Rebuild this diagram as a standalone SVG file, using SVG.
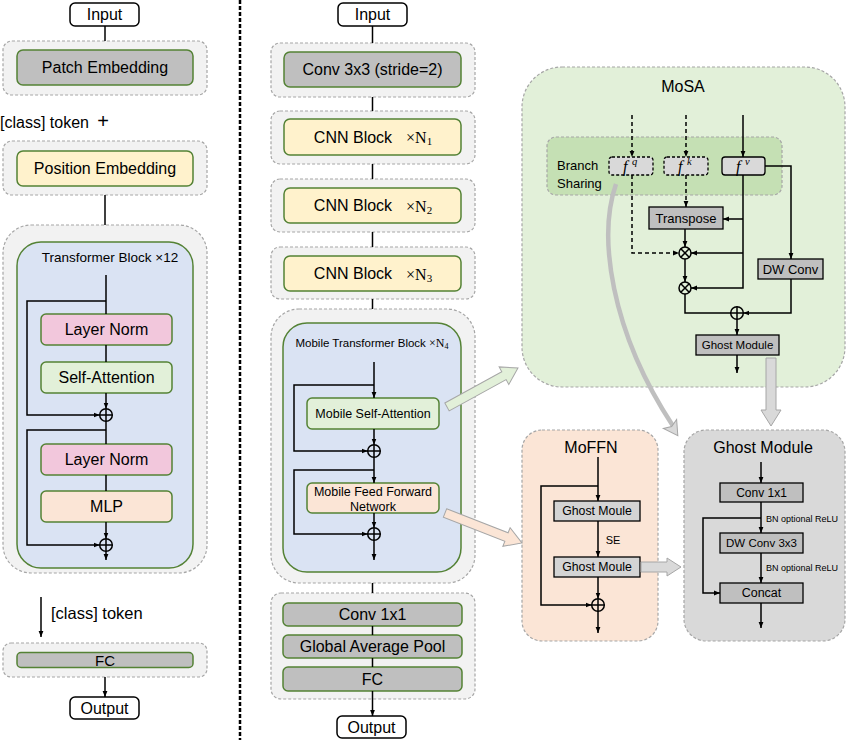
<svg xmlns="http://www.w3.org/2000/svg" width="848" height="740" viewBox="0 0 848 740">
<defs>
<style>
.panel{fill:#f2f2f2;stroke:#a6a6a6;stroke-width:1.2;stroke-dasharray:3 2}
.node{stroke:#548235;stroke-width:1.5}
.gray{fill:#bfbfbf}.yel{fill:#fff2cc}.blue{fill:#dae3f3}.pink{fill:#f2c7dc}.green{fill:#e2f0d9}.peach{fill:#fbe5d6}
.io{fill:#fff;stroke:#000;stroke-width:1.5}
.bx{fill:#bfbfbf;stroke:#000;stroke-width:1.3}
.lbx{fill:#d4d4d4;stroke:#000;stroke-width:1.3}
.ln{stroke:#000;stroke-width:1.5;fill:none}
.ar{marker-end:url(#ah)}
.dash{stroke-dasharray:4 3}
.t{font-family:"Liberation Sans",Arial,sans-serif;fill:#000;text-anchor:middle;dominant-baseline:central}
.s{font-family:"Liberation Serif","Times New Roman",serif}
.fi{font-family:"Liberation Serif","Times New Roman",serif;font-style:italic;fill:#000}
.wide{stroke:#a6a6a6;stroke-width:1}
</style>
<marker id="ah" viewBox="0 0 10 10" refX="10" refY="5" markerWidth="6" markerHeight="6" markerUnits="userSpaceOnUse" orient="auto"><path d="M0,1 L10,5 L0,9 z" fill="#000"/></marker>
<g id="oplus"><circle r="6.3" fill="none" stroke="#000" stroke-width="1.5"/><path d="M-6.3,0H6.3M0,-6.3V6.3" stroke="#000" stroke-width="1.5"/></g>
<g id="otimes"><circle r="6" fill="none" stroke="#000" stroke-width="1.5"/><path d="M-4.2,-4.2L4.2,4.2M-4.2,4.2L4.2,-4.2" stroke="#000" stroke-width="1.5"/></g>
</defs>

<rect width="848" height="740" fill="#fff"/>

<!-- divider -->
<line x1="240" y1="0" x2="240" y2="740" stroke="#000" stroke-width="2.5" stroke-dasharray="4 2"/>

<!-- LEFT COLUMN -->
<g id="vit-input"><rect x="70" y="3" width="69" height="23" rx="5" class="io"/><text x="104.5" y="14.5" class="t" font-size="16">Input</text></g>
<g id="patch-embedding"><rect x="3" y="41" width="204" height="54" rx="9" class="panel"/><rect x="17" y="50" width="176" height="35" rx="6" class="gray node"/><text x="105" y="67.5" class="t" font-size="16">Patch Embedding</text></g>
<g id="class-token-plus"><text x="0" y="122" class="t" font-size="16" style="text-anchor:start">[class] token</text><text x="103" y="121" class="t" font-size="20" font-weight="300">+</text></g>
<g id="position-embedding"><rect x="3" y="141" width="204" height="54" rx="9" class="panel"/><rect x="17" y="151" width="176" height="35" rx="6" class="yel node"/><text x="105" y="168.5" class="t" font-size="16">Position Embedding</text></g>
<g id="transformer-block">
<rect x="3" y="225" width="204" height="348" rx="28" class="panel"/>
<rect x="17" y="242" width="176" height="326" rx="24" class="blue node"/>
<text x="110" y="257" class="t" font-size="13.5">Transformer Block ×12</text>
</g>
<g id="layer-norm-1"><rect x="41" y="314" width="131" height="31" rx="5" class="pink node"/><text x="106.5" y="329.5" class="t" font-size="16">Layer Norm</text></g>
<g id="self-attention"><rect x="41" y="362" width="131" height="31" rx="5" class="green node"/><text x="106.5" y="377.5" class="t" font-size="16">Self-Attention</text></g>
<g id="add-1"><use href="#oplus" x="106" y="415"/></g>
<g id="layer-norm-2"><rect x="41" y="444" width="131" height="31" rx="5" class="pink node"/><text x="106.5" y="459.5" class="t" font-size="16">Layer Norm</text></g>
<g id="mlp"><rect x="41" y="491" width="131" height="31" rx="5" class="peach node"/><text x="106.5" y="506.5" class="t" font-size="16">MLP</text></g>
<g id="add-2"><use href="#oplus" x="106" y="545"/></g>
<g id="class-token-label"><text x="51" y="613" class="t" font-size="16.5" style="text-anchor:start">[class] token</text></g>
<g id="vit-fc"><rect x="3" y="643" width="204" height="34" rx="8" class="panel"/><rect x="17" y="652.5" width="176" height="15" rx="4" class="gray node"/><text x="105" y="660" class="t" font-size="15">FC</text></g>
<g id="vit-output"><rect x="70" y="697" width="69" height="22" rx="5" class="io"/><text x="104.5" y="708" class="t" font-size="16">Output</text></g>

<!-- MIDDLE COLUMN -->
<g id="input"><rect x="338" y="3" width="69" height="23" rx="5" class="io"/><text x="372.5" y="14.5" class="t" font-size="16">Input</text></g>
<g id="conv3x3"><rect x="271" y="43" width="204" height="54" rx="9" class="panel"/><rect x="284" y="52" width="177" height="35" rx="6" class="gray node"/><text x="372.5" y="69.5" class="t" font-size="16">Conv 3x3 (stride=2)</text></g>
<g id="cnn-block-1"><rect x="271" y="111" width="204" height="53" rx="9" class="panel"/><rect x="284" y="119" width="177" height="36" rx="6" class="yel node"/><text x="373" y="137" class="t" font-size="16">CNN Block<tspan dx="14" class="s">×N</tspan><tspan class="s" font-size="11" baseline-shift="-4">1</tspan></text></g>
<g id="cnn-block-2"><rect x="271" y="179" width="204" height="53" rx="9" class="panel"/><rect x="284" y="188" width="177" height="35" rx="6" class="yel node"/><text x="373" y="205.5" class="t" font-size="16">CNN Block<tspan dx="14" class="s">×N</tspan><tspan class="s" font-size="11" baseline-shift="-4">2</tspan></text></g>
<g id="cnn-block-3"><rect x="271" y="247" width="204" height="52" rx="9" class="panel"/><rect x="284" y="256" width="177" height="35" rx="6" class="yel node"/><text x="373" y="273.5" class="t" font-size="16">CNN Block<tspan dx="14" class="s">×N</tspan><tspan class="s" font-size="11" baseline-shift="-4">3</tspan></text></g>
<g id="mobile-transformer-block">
<rect x="271" y="309" width="204" height="274" rx="28" class="panel"/>
<rect x="283" y="323" width="178" height="249" rx="24" class="blue node"/>
<text x="372" y="343" class="t" font-size="11.5">Mobile Transformer Block <tspan class="s" font-size="12">×N</tspan><tspan class="s" font-size="8" baseline-shift="-3">4</tspan></text>
</g>
<g id="mobile-self-attention"><rect x="307" y="398" width="132" height="31" rx="5" class="green node"/><text x="373" y="413.5" class="t" font-size="12.5">Mobile Self-Attention</text></g>
<g id="m-add-1"><use href="#oplus" x="374" y="451"/></g>
<g id="mobile-ffn"><rect x="307" y="483" width="132" height="30" rx="5" class="peach node"/><text x="373" y="492" class="t" font-size="12.5">Mobile Feed Forward</text><text x="373" y="506.5" class="t" font-size="12.5">Network</text></g>
<g id="m-add-2"><use href="#oplus" x="374" y="534"/></g>
<g id="head">
<rect x="271" y="593" width="204" height="106" rx="10" class="panel"/>
<rect x="283" y="603" width="179" height="23" rx="5" class="gray node"/><text x="372.5" y="614.5" class="t" font-size="16">Conv 1x1</text>
<rect x="283" y="635" width="179" height="23" rx="5" class="gray node"/><text x="372.5" y="646.5" class="t" font-size="16">Global Average Pool</text>
<rect x="283" y="667" width="179" height="24" rx="5" class="gray node"/><text x="372.5" y="679" class="t" font-size="16">FC</text>
</g>
<g id="output"><rect x="337" y="716" width="69" height="22" rx="5" class="io"/><text x="371.5" y="727" class="t" font-size="16">Output</text></g>

<!-- MoSA -->
<g id="mosa">
<rect x="522" y="67" width="323" height="320" rx="40" class="panel" style="fill:#e2f0d9"/>
<text x="683" y="86" class="t" font-size="16">MoSA</text>
</g>
<g id="branch-sharing">
<rect x="547" y="137" width="235" height="58" rx="9" class="panel" style="fill:#c5e0b4"/>
<text x="557" y="165" class="t" font-size="13" style="text-anchor:start">Branch</text>
<text x="557" y="183" class="t" font-size="13" style="text-anchor:start">Sharing</text>
</g>
<g id="fq"><rect x="609" y="157" width="44" height="18" rx="3" fill="#d9d9d9" stroke="#000" stroke-width="1.3" stroke-dasharray="3 2"/><text x="623" y="171.5" class="fi" font-size="16">f</text><text x="632" y="165" class="fi" font-size="10.5">q</text></g>
<g id="fk"><rect x="664" y="157" width="44" height="18" rx="3" fill="#d9d9d9" stroke="#000" stroke-width="1.3" stroke-dasharray="3 2"/><text x="678" y="171.5" class="fi" font-size="16">f</text><text x="687" y="165" class="fi" font-size="10.5">k</text></g>
<g id="fv"><rect x="722" y="157" width="43" height="18" rx="3" fill="#d9d9d9" stroke="#000" stroke-width="1.3"/><text x="736" y="171.5" class="fi" font-size="16">f</text><text x="745" y="165" class="fi" font-size="10.5">v</text></g>
<g id="transpose"><rect x="649" y="207" width="74" height="22" class="bx"/><text x="686" y="218" class="t" font-size="13">Transpose</text></g>
<g id="mul-1"><use href="#otimes" x="685" y="253"/></g>
<g id="mul-2"><use href="#otimes" x="685" y="288"/></g>
<g id="dw-conv"><rect x="758" y="259" width="65" height="20" class="bx"/><text x="790.5" y="269" class="t" font-size="13">DW Conv</text></g>
<g id="mosa-add"><use href="#oplus" x="737" y="313"/></g>
<g id="mosa-ghost"><rect x="696" y="335" width="83" height="20" class="bx"/><text x="737.5" y="345" class="t" font-size="11.5">Ghost Module</text></g>

<!-- MoFFN -->
<g id="moffn">
<rect x="522" y="430" width="136" height="211" rx="20" class="panel" style="fill:#fbe5d6"/>
<text x="591" y="447" class="t" font-size="16">MoFFN</text>
</g>
<g id="ghost-moule-1"><rect x="554" y="501" width="86" height="20" class="lbx"/><text x="597" y="511" class="t" font-size="12.3">Ghost Moule</text></g>
<g id="se-label"><text x="613" y="540" class="t" font-size="11">SE</text></g>
<g id="ghost-moule-2"><rect x="554" y="557" width="86" height="20" class="lbx"/><text x="597" y="567" class="t" font-size="12.3">Ghost Moule</text></g>
<g id="moffn-add"><use href="#oplus" x="598" y="605"/></g>

<!-- Ghost Module -->
<g id="ghost-module">
<rect x="684" y="430" width="161" height="211" rx="22" class="panel" style="fill:#d9d9d9"/>
<text x="763" y="447" class="t" font-size="16">Ghost Module</text>
</g>
<g id="gm-conv1x1"><rect x="720" y="483" width="83" height="19" class="bx"/><text x="761.5" y="492.5" class="t" font-size="12">Conv 1x1</text></g>
<g id="bn-label-1"><text x="766" y="519" class="t" font-size="9" style="text-anchor:start">BN optional ReLU</text></g>
<g id="gm-dwconv"><rect x="720" y="533" width="83" height="20" class="bx"/><text x="761.5" y="543" class="t" font-size="11.5">DW Conv 3x3</text></g>
<g id="bn-label-2"><text x="766" y="568" class="t" font-size="9" style="text-anchor:start">BN optional ReLU</text></g>
<g id="gm-concat"><rect x="720" y="583" width="83" height="20" class="bx"/><text x="761.5" y="593" class="t" font-size="12.5">Concat</text></g>

<!-- CONNECTORS -->
<g id="connectors">
<path class="ln" d="M105,26V41"/>
<path class="ln" d="M105,195V225"/>
<path class="ln" d="M106,275V314"/>
<path class="ln ar" d="M106,301H27V415H99.7"/>
<path class="ln" d="M106,345V362"/>
<path class="ln ar" d="M106,393V408.7"/>
<path class="ln" d="M106,421.3V444"/>
<path class="ln ar" d="M106,430H27V545H99.7"/>
<path class="ln" d="M106,475V491"/>
<path class="ln ar" d="M106,522V538.7"/>
<path class="ln ar" d="M106,551.3V560"/>
<path class="ln ar" d="M41,597V637"/>
<path class="ln ar" d="M105,677V697"/>
<path class="ln" d="M372.5,26V43"/>
<path class="ln" d="M372.5,97V111"/>
<path class="ln" d="M372.5,164V179"/>
<path class="ln" d="M372.5,232V247"/>
<path class="ln" d="M372.5,299V309"/>
<path class="ln ar" d="M374,362V398"/>
<path class="ln ar" d="M374,385H294V451H367.7"/>
<path class="ln ar" d="M374,429V444.7"/>
<path class="ln ar" d="M374,457.3V483"/>
<path class="ln ar" d="M374,470H294V534H367.7"/>
<path class="ln ar" d="M374,513V527.7"/>
<path class="ln ar" d="M374,540.3V560"/>
<path class="ln" d="M372.5,583V593"/>
<path class="ln" d="M372.5,626V635"/>
<path class="ln" d="M372.5,658V667"/>
<path class="ln ar" d="M372.5,691V716"/>
<path class="ln dash ar" d="M632,115V157"/>
<path class="ln dash ar" d="M686,115V157"/>
<path class="ln dash ar" d="M632,175V253H679"/>
<path class="ln dash ar" d="M686,175V207"/>
<path class="ln ar" d="M743,115V157"/>
<path class="ln ar" d="M743,175V288H691"/>
<path class="ln ar" d="M743,219H723"/>
<path class="ln ar" d="M743,253H691"/>
<path class="ln ar" d="M765,166H791V259"/>
<path class="ln ar" d="M685,229V247"/>
<path class="ln ar" d="M685,259V282"/>
<path class="ln" d="M685,294V313H730.7"/>
<path class="ln ar" d="M791,279V313H743.3"/>
<path class="ln ar" d="M737,319.3V335"/>
<path class="ln ar" d="M737,355V373"/>
<path class="ln ar" d="M598,457V501"/>
<path class="ln ar" d="M598,486H541V605H591.7"/>
<path class="ln ar" d="M598,521V557"/>
<path class="ln ar" d="M598,577V598.7"/>
<path class="ln ar" d="M598,611.3V633"/>
<path class="ln ar" d="M761,462V483"/>
<path class="ln ar" d="M761,502V533"/>
<path class="ln ar" d="M761,518H703V593H720"/>
<path class="ln ar" d="M761,553V583"/>
<path class="ln ar" d="M761,603V628"/>
<polygon class="wide" fill="#e2f0d9" points="0,-4.5 65,-4.5 65,-10 81,0 65,10 65,4.5 0,4.5" transform="translate(447,407) rotate(-28.8)"/>
<polygon class="wide" fill="#fbe5d6" points="0,-4.5 66,-4.5 66,-10 82.6,0 66,10 66,4.5 0,4.5" transform="translate(445,513) rotate(21.3)"/>
<polygon class="wide" fill="#d9d9d9" points="0,-5 26,-5 26,-9 40,0 26,9 26,5 0,5" transform="translate(641,567)"/>
<polygon class="wide" fill="#d9d9d9" points="0,-5 52,-5 52,-10 68,0 52,10 52,5 0,5" transform="translate(771,358) rotate(90)"/>
<path d="M616,184 C598,236 610,330 673,426" fill="none" stroke="#bfbfbf" stroke-width="4.5"/>
<polygon class="wide" fill="#d9d9d9" points="0,-8 14,0 0,8 3,0" transform="translate(670,424) rotate(56)"/>
</g>
</svg>
